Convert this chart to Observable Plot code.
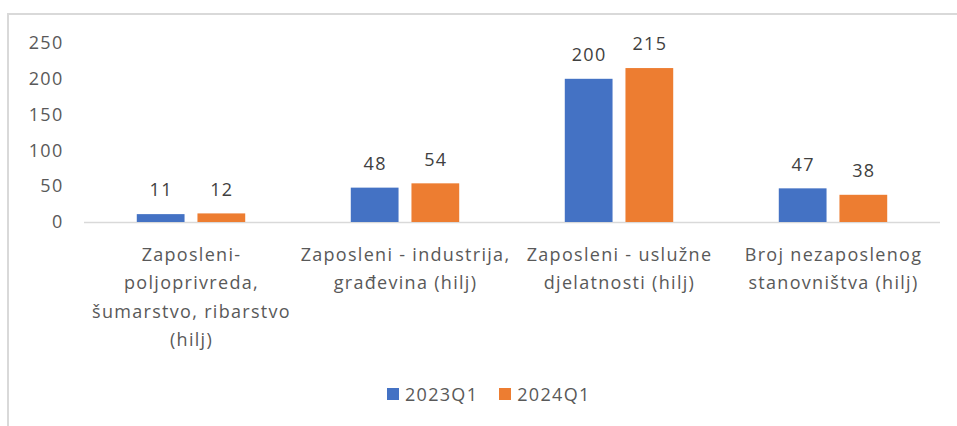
<!DOCTYPE html>
<html>
<head>
<meta charset="utf-8">
<script src="https://cdn.jsdelivr.net/npm/d3@7"></script>
<script src="https://cdn.jsdelivr.net/npm/@observablehq/plot@0.6"></script>
<style>
  body { margin: 0; background: #fff; }
  #wrap { position: relative; width: 957px; height: 426px; overflow: hidden; font-family: "Open Sans", sans-serif; }
  #frame { position: absolute; left: 7px; top: 13px; width: 970px; height: 430px; border-top: 2px solid #d9d9d9; border-left: 2px solid #d9d9d9; }
  #chart { position: absolute; left: 0; top: 0; }
  #legend { position: absolute; left: 387px; top: 382px; display: flex; align-items: center; font-size: 18px; letter-spacing: 1.3px; color: #595959; }
  .item { display: flex; align-items: center; margin-right: 21px; }
  .sw { width: 12px; height: 12px; margin-right: 6px; }
</style>
</head>
<body>
<div id="wrap">
  <div id="frame"></div>
  <div id="chart"></div>
  <div id="legend"></div>
</div>
<script>
const categories = [
  "Zaposleni-poljoprivreda, šumarstvo, ribarstvo (hilj)",
  "Zaposleni - industrija, građevina (hilj)",
  "Zaposleni - uslužne djelatnosti (hilj)",
  "Broj nezaposlenog stanovništva (hilj)"
];
const categoryLabels = [
  "Zaposleni-\npoljoprivreda,\nšumarstvo, ribarstvo\n(hilj)",
  "Zaposleni - industrija,\ngrađevina (hilj)",
  "Zaposleni - uslužne\ndjelatnosti (hilj)",
  "Broj nezaposlenog\nstanovništva (hilj)"
];
const series = ["2023Q1", "2024Q1"];
const values2023Q1 = [11, 48, 200, 47];
const values2024Q1 = [12, 54, 215, 38];
const yTicks = [0, 50, 100, 150, 200, 250];
const colors = ["#4472C4", "#ED7D31"];

const data = [];
categories.forEach((c, i) => {
  data.push({cat: c, series: series[0], value: values2023Q1[i]});
  data.push({cat: c, series: series[1], value: values2024Q1[i]});
});

const height = 370;
const chart = Plot.plot({
  width: 957,
  height,
  marginLeft: 84,
  marginRight: 17,
  marginTop: 43,
  marginBottom: height - 222,
  style: { fontFamily: "'Open Sans', sans-serif", fontSize: "18px", letterSpacing: "1.3px", color: "#595959", background: "transparent" },
  fx: { domain: categories, padding: 0, label: null },
  x: { domain: series, paddingInner: 0.213, paddingOuter: 0.87, axis: null, round: false },
  y: { domain: [0, 250], label: null },
  color: { domain: series, range: colors },
  marks: [
    Plot.axisY({ ticks: yTicks, tickSize: 0, tickPadding: 21, label: null, fontSize: 18 }),
    Plot.axisFx({ anchor: "bottom", tickSize: 0, tickPadding: 18, label: null, lineHeight: 1.58, fontSize: 18,
                  tickFormat: d => categoryLabels[categories.indexOf(d)] }),
    Plot.ruleY([0], { stroke: "#d9d9d9", strokeWidth: 1.5 }),
    Plot.barY(data, { fx: "cat", x: "series", y: "value", fill: "series" }),
    Plot.text(data, { fx: "cat", x: "series", y: "value", text: d => String(d.value), dy: -24, fill: "#404040", fontSize: 18 })
  ]
});
document.getElementById("chart").appendChild(chart);

const legend = document.getElementById("legend");
series.forEach((s, i) => {
  const it = document.createElement("div");
  it.className = "item";
  const sw = document.createElement("span");
  sw.className = "sw";
  sw.style.background = colors[i];
  const t = document.createElement("span");
  t.textContent = s;
  it.appendChild(sw);
  it.appendChild(t);
  legend.appendChild(it);
});
</script>
</body>
</html>
